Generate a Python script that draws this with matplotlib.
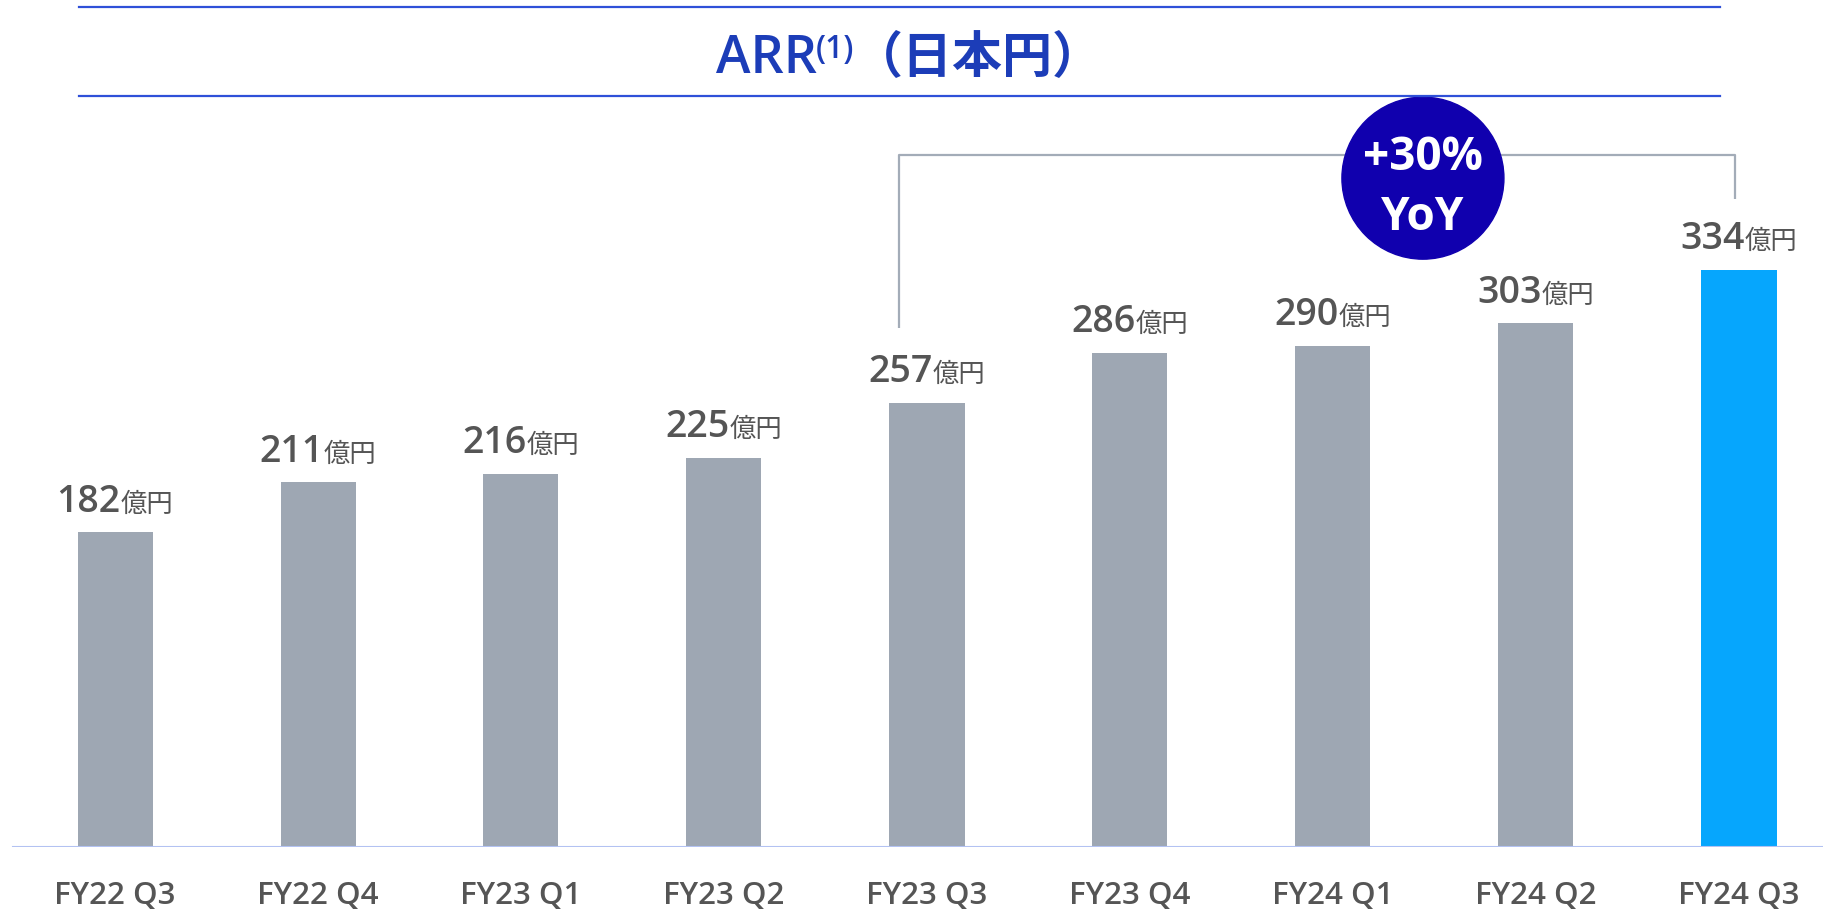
import matplotlib
matplotlib.use("Agg")
import matplotlib.pyplot as plt
from matplotlib.patches import Ellipse
from matplotlib.lines import Line2D
import matplotlib.transforms as mtransforms

categories = ["FY22 Q3", "FY22 Q4", "FY23 Q1", "FY23 Q2", "FY23 Q3",
              "FY23 Q4", "FY24 Q1", "FY24 Q2", "FY24 Q3"]
values = [182, 211, 216, 225, 257, 286, 290, 303, 334]
unit = "億円"
title_main = "ARR"
title_sup = "(1)"
title_jp = "（日本円）"
growth_line1 = "+30%"
growth_line2 = "YoY"
bar_colors = ["#9ea7b3"] * 8 + ["#06a6fd"]

LAT = ["Open Sans", "Noto Sans CJK JP", "DejaVu Sans"]
CJK = ["Noto Sans CJK JP", "DejaVu Sans"]
TXT = "#555555"

W, H = 1824, 912
fig = plt.figure(figsize=(W / 100, H / 100), dpi=100)
base_px = 64.3
ax = fig.add_axes([0, base_px / H, 1, (H - base_px) / H])
x0, dx = 115, 203
ppu = 1.7275
ax.set_xlim(-x0 / dx, (W - x0) / dx)
ax.set_ylim(0, (H - base_px) / ppu)
xs = list(range(len(values)))
ax.bar(xs, values, width=75 / dx, color=bar_colors, zorder=2)
for s in ax.spines.values():
    s.set_visible(False)
ax.set_xticks([])
ax.set_yticks([])
ax.axhline(0, xmin=13 / W, xmax=1, color="#b3c2f2", lw=1.5, zorder=3)

renderer = fig.canvas.get_renderer()

# x labels
lab_tr = mtransforms.offset_copy(ax.transData, fig=fig, x=0, y=-56, units="dots")
for x, c in zip(xs, categories):
    ax.text(x, 0, c, transform=lab_tr, ha="center", va="baseline",
            fontsize=22.5, color=TXT, family=LAT, fontweight="semibold")

# value labels
for x, v in zip(xs, values):
    t1 = ax.text(x, v, str(v), ha="left", va="baseline", fontsize=27,
                 color=TXT, family=LAT, fontweight="semibold")
    t2 = ax.text(x, v, unit, ha="left", va="baseline", fontsize=19,
                 color=TXT, family=CJK)
    w1 = t1.get_window_extent(renderer).width
    w2 = t2.get_window_extent(renderer).width
    tot = w1 + w2
    t1.set_transform(mtransforms.offset_copy(ax.transData, fig=fig, x=-tot / 2, y=21.6, units="dots"))
    t2.set_transform(mtransforms.offset_copy(ax.transData, fig=fig, x=-tot / 2 + w1, y=21.6, units="dots"))

# bracket
i0, i1 = 4, 8
bracket_top = 400.6
ax.plot([i0 - 28 / dx, i0 - 28 / dx, i1 - 4 / dx, i1 - 4 / dx],
        [values[i0] + 43.2, bracket_top, bracket_top, values[i1] + 41],
        color="#a3acb8", lw=1.6, zorder=1, solid_capstyle="butt")

# bubble
bx, by = 6.443, 387
ax.add_patch(Ellipse((bx, by), 162 / dx, 162 / ppu, color="#1000ae", zorder=4))
ax.text(bx, 399.8, growth_line1, ha="center", va="center", fontsize=33,
        color="white", fontweight="bold", family=LAT, zorder=5)
ax.text(bx, 365, growth_line2, ha="center", va="center", fontsize=33,
        color="white", fontweight="bold", family=LAT, zorder=5)

# title rules
for yy in (8, 97):
    fig.add_artist(Line2D([79 / W, 1720 / W], [1 - yy / H, 1 - yy / H],
                          color="#2f50d8", lw=1.6, transform=fig.transFigure))

# title pieces (pixel coordinates)
TCOL = "#1c3db8"
fig.text(766, H - 73, title_main, ha="center", va="baseline", color=TCOL,
         fontsize=37.5, family=LAT, fontweight="semibold", transform=None)
fig.text(816, H - 58, title_sup, ha="left", va="baseline", color=TCOL,
         fontsize=23, family=LAT, fontweight="semibold", transform=None)
fig.text(978, H - 73, title_jp, ha="center", va="baseline", color=TCOL,
         fontsize=36, family=CJK, fontweight="bold", transform=None)

fig.savefig("out.png", dpi=100)
